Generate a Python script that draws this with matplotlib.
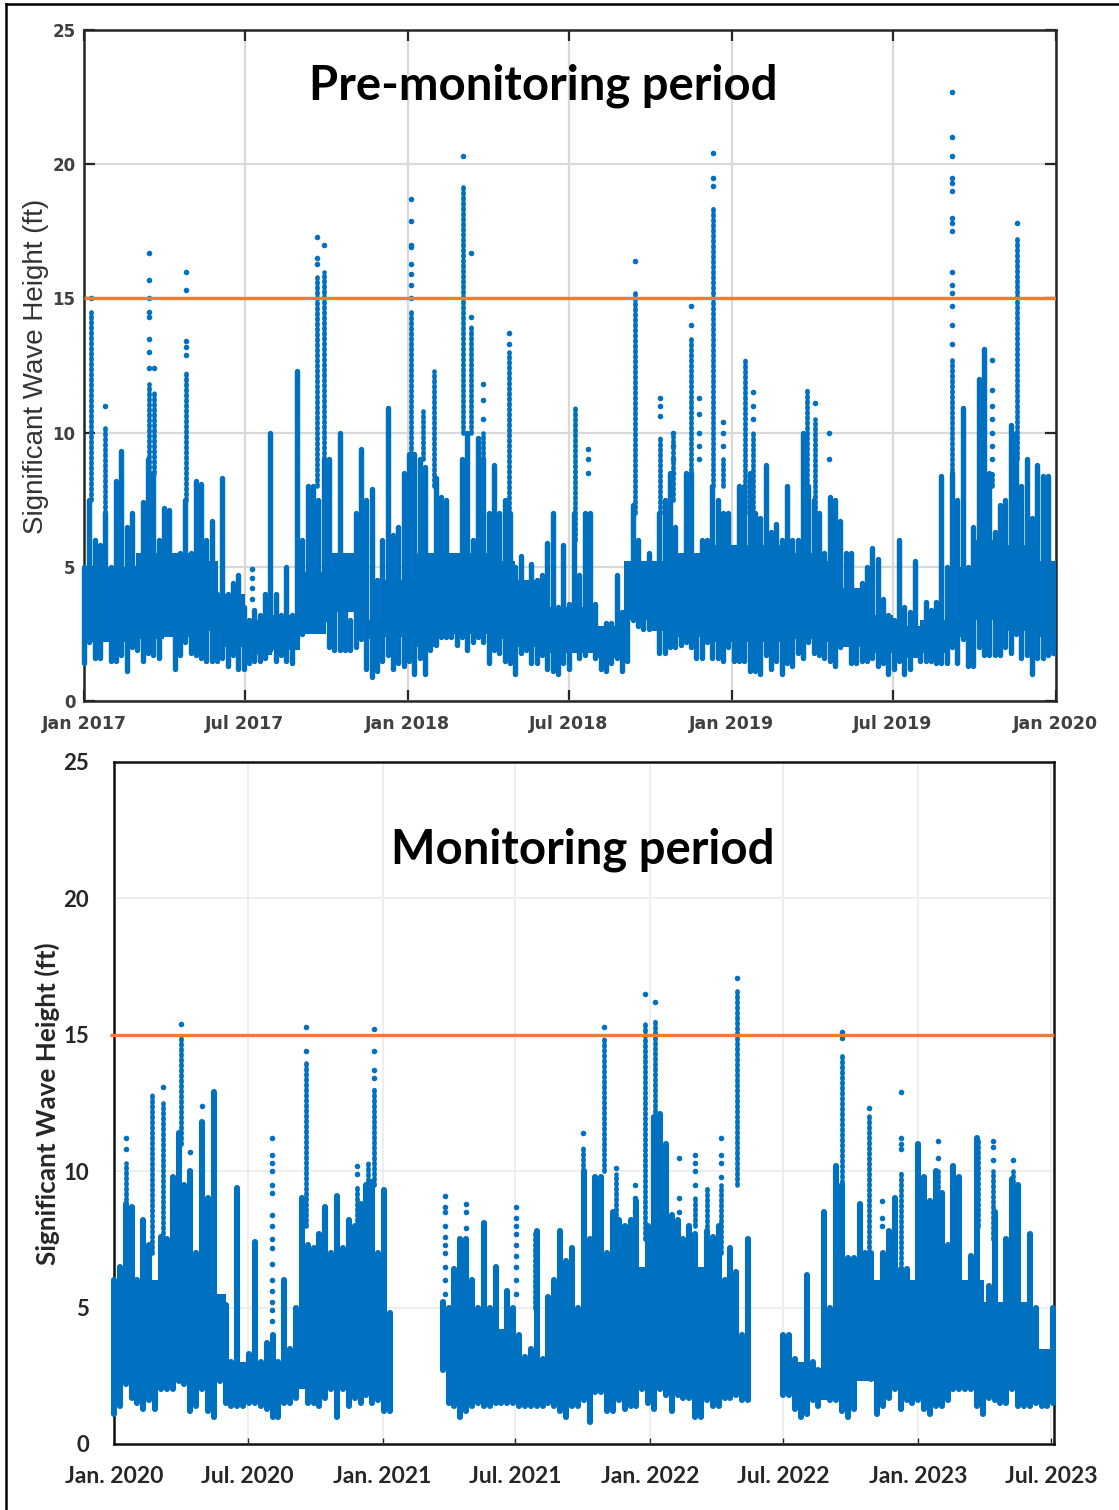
# Significant wave height, pre-monitoring and monitoring periods
import numpy as np
import pandas as pd
import matplotlib
matplotlib.use("Agg")
import matplotlib.pyplot as plt
from matplotlib.lines import Line2D

FIG_W, FIG_H = 1119, 1510
BLUE = "#0070C0"
ORANGE = "#ED7D31"
gap = np.nan

# ---- pre-monitoring period: one column of readings every 6 days from Jan 2017
pre_high = [5, 7.5, 6, 5.8, 7, 5, 8.2, 9.3, 6.5, 7, 5, 7.4, 9, 8.5, 6, 7.2, 7.1, 5.2, 5.5, 7.5,
            5.5, 8.2, 8.1, 6, 6.7, 4, 8.3, 4, 4.4, 4.7, 3.5, 3, 3.4, 3.2, 4, 10, 4, 3.2, 5, 3.2,
            12.3, 6, 8, 8, 7.5, 9, 9, 4.7, 10, 4, 3, 7, 9.4, 7.5, 7.9, 4.5, 6, 10.9, 6.2, 6.5, 8.5,
            9.2, 9.2, 9, 8.7, 5.2, 8.3, 7.6, 7.5, 5, 5.2, 9, 10, 6, 9.8, 9, 7, 8.8, 7, 7.5, 7,
            5, 5.4, 3.5, 5.1, 4.5, 4.7, 5.9, 7, 3.5, 5.8, 3.6, 7, 4.7, 7, 7, 3.6, 2.6, 2.9, 2.9, 4.7,
            3.3, 3.2, 7.3, 6, 5, 5.5, 4.2, 7, 7.5, 8.5, 6.5, 5, 8.5, 8.5, 5, 6, 6, 8, 7.5, 7,
            7, 5, 8, 8, 8.5, 7,
            6.8, 8.8, 6.3, 6.6, 6, 8, 6, 6, 10, 8, 7.5, 7, 5.5, 7.6, 7.5, 6.7, 5.5, 5.5, 4, 4.4,
            5, 5.7, 5.3, 3.8, 3.2, 3, 6, 3.5, 3.3, 5.2, 2.5, 3.7, 3.4, 3.7, 8.4, 5, 8.5, 7.5, 10.9, 5,
            6.5, 12, 13.1, 8.5, 6.3, 7.3, 7.5, 10.3, 10, 8, 9, 6.8, 8.8, 8.4, 8.4, 5]
pre_low = [1.4, 2.2, 1.6, 1.6, 2.4, 1.5, 1.5, 1.7, 1.1, 2, 1.9, 1.5, 1.8, 1.7, 1.6, 3, 2.5, 1.2, 1.7, 2.2,
           1.8, 1.7, 1.6, 1.5, 1.5, 1.5, 1.6, 1.3, 1.7, 1.2, 1.2, 1.4, 1.5, 1.5, 1.6, 1.9, 1.5, 1.7, 1.5, 1.4,
           2.3, 2.5, 4.2, 4.2, 3.4, 3, 2, 1.9, 1.9, 1.9, 1.9, 2, 2.3, 1.2, 0.9, 1.1, 1.5, 1.7, 1.2, 1.4, 1.3,
           1.5, 1, 1.6, 1, 1.9, 2.1, 2.4, 2.4, 2.4, 2.1, 2.4, 1.9, 2.2, 2.4, 2.2, 1.4, 1.9, 1.8, 1.5, 1.4,
           1, 1.8, 1.9, 1.4, 1.4, 1.7, 1.2, 1.1, 1, 1.4, 1.2, 1.9, 1.6, 1.7, 1.9, 1.6, 1.2, 1.1, 1.4, 1.6,
           1.1, 1.5, 3, 2.8, 2.7, 2.7, 2.8, 1.8, 1.8, 2, 2, 2.1, 2.2, 2, 1.6, 1.6, 2.2, 1.6, 1.6, 1.5,
           2, 1.5, 1.5, 1.5, 1.1, 1.1,
           1, 1.7, 1.2, 1.5, 1, 1.4, 1.3, 1.8, 1.6, 2.2, 1.8, 1.7, 1.6, 1.5, 1.3, 2, 2.4, 1.4, 1.4, 1.5,
           1.5, 1.6, 1.3, 1.4, 1, 1.2, 1.5, 1, 1.2, 1.7, 1.5, 1.5, 1.5, 1.4, 1.4, 1.4, 2, 1.4, 2.3, 1.3,
           1.3, 2, 1.7, 1.7, 1.7, 1.7, 2, 1.8, 2.5, 1.6, 1.7, 1, 1.6, 1.6, 1.7, 1.8]

# the solid part of the cloud, read month by month
pre_core_low = [2.2, 2.2, 2.3, 2.4, 2.6, 2, 1.7, 1.9, 2.5, 3.3, 2.3, 2.4,
                2, 2.5, 2.5, 2.3, 2, 1.8, 1.8, 1.6, 3, 2.6, 2.4, 2.2,
                2.2, 2.2, 2.3, 2.2, 2, 1.8, 1.6, 1.8, 2.4, 3, 2.6, 2.4, 2.4]
pre_core_high = [5, 5, 5.5, 5.5, 5.2, 4, 3, 3.2, 4.8, 5.5, 3, 4.5,
                 5.5, 5.5, 5.5, 5.2, 4.5, 3.5, 3.5, 2.8, 5.2, 5.2, 5.5, 5.8,
                 5.8, 5.8, 5.5, 5.2, 4.2, 3.2, 2.8, 3, 5, 6, 5.8, 5.2, 5]

# storms that stand out above the columns: day from start, foot and top of the solid part, loose readings above
pre_spike_days = [8, 24, 73, 79, 115, 189, 262, 270, 368, 382, 394, 427, 436, 449, 479, 553, 568, 621, 649,
                  664, 684, 693, 709, 720, 745, 754, 814, 823, 839, 978, 1014, 1023, 1051]
pre_spike_base = [7.5, 7, 8.5, 8.5, 7.5, 3, 8, 9, 9.2, 9, 8, 10, 10, 9, 6, 6, 7, 7, 7,
                  7.5, 8, 8, 8, 8, 7, 7, 8, 7, 7, 8, 8, 8, 9]
pre_spike_top = [14.5, 10.2, 11.8, 11.5, 12.3, 3, 15.8, 16, 14.5, 10.8, 12.3, 19.2, 14, 10, 13, 11, 7, 15.3, 9.8,
                 10, 13.5, 8, 18.4, 9, 12.7, 10, 11.6, 10.5, 7, 12.7, 13.1, 8.5, 17.3]
pre_spike_dots = [[15], [11], [12.4, 13, 13.5, 14.3, 14.5, 15, 15.7, 16.7], [12.4], [12.9, 13.2, 13.4, 15.3, 16],
                  [3.8, 4.2, 4.6, 4.9], [16.3, 16.5, 17.3], [17], [15, 15.5, 15.9, 16.3, 16.9, 17, 17.9, 18.7],
                  [], [], [20.3], [14.3, 16.7], [10.5, 11.2, 11.8], [13.3, 13.7], [],
                  [8.5, 9, 9.4], [16.4], [10.6, 11, 11.3], [8.5, 9, 9.5, 10], [14, 14.7],
                  [9, 9.5, 10, 10.7, 11.3], [19.2, 19.5, 20.4], [9.5, 10, 10.4], [], [10.5, 11, 11.5], [],
                  [11.1], [9, 10],
                  [13.3, 14, 14.7, 15.2, 15.5, 16, 17.5, 17.8, 18, 19, 19.3, 19.5, 20.3, 21, 22.7],
                  [], [9, 9.5, 10, 10.5, 11, 11.6, 12.7], [17.8]]

# ---- monitoring period: one column every 8 days from Jan 2020, gaps where the buoy was out
mon_high = [6, 6.5, 8.8, 8.7, 6, 8.2, 7.3, 5, 7.6, 7.5, 9.8, 11.4, 9.5, 10, 7, 11.8, 9, 12.9, 5.3, 5.1,
            3, 9.4, 2.9, 3.3, 7.4, 3, 3.7, 4, 3, 6, 3.5, 5, 9, 7.3, 7.2, 7.7, 8.7, 7, 9.1, 7.2,
            8.2, 8, 8.8, 9.5, 9.6, 7, 9.3, 4.8,
            gap, gap, gap, gap, gap, gap, gap, gap,
            5.2, 5, 6.4, 7.5, 7.5, 6, 5, 8.1, 5, 6.5, 4, 5.6, 5, 4, 3.2, 3.5, 7.8, 3.1, 5.4, 6,
            7.8, 6.7, 7.2, 5, 10, 7.5, 9.8, 9.8, 7, 8.5, 8.2, 8, 8.2, 8.9, 5.5, 8, 12, 12.1, 11, 8.4,
            8.2, 7.5, 8, 7.7, 6, 7.8, 7.6, 8, 6, 7.2, 6.3, 4, 7.5,
            gap, gap, gap, gap, gap,
            4, 4, 3.1, 2.9, 6.2, 3, 2.7, 8.5, 5, 10.2, 9.5, 6.8, 6.8, 8.8, 7, 7, 5, 7, 7.8, 9,
            6.4, 6.4, 4.5, 11, 9.8, 8.9, 10, 9.2, 7.3, 10.2, 9.8, 5, 6.9, 11.2, 4.2, 5.8, 8.5, 5, 7.5, 9.7,
            9.5, 4.5, 7.7, 5, 3.2, 3, 5]
mon_low = [1.1, 1.4, 2.2, 1.7, 1.5, 1.3, 1.6, 1.3, 2, 2, 2, 2.3, 2.2, 1.2, 1.4, 2, 1.2, 1, 2.3, 1.5,
           1.4, 1.4, 1.4, 1.5, 1.5, 1.4, 1.3, 1, 1, 1.5, 1.5, 1.7, 2.8, 1.5, 1.5, 1.4, 1.7, 2, 1, 2,
           1.4, 1.7, 1.5, 1.8, 1.5, 1.6, 1.2, 1.2,
           gap, gap, gap, gap, gap, gap, gap, gap,
           2.7, 1.5, 1.4, 1, 1.2, 1.4, 1.5, 1.4, 1.4, 1.5, 1.5, 1.5, 1.5, 1.4, 1.4, 1.4, 1.4, 1.4, 1.5, 1.4,
           1.2, 1, 1.4, 1.4, 1.6, 0.8, 1.9, 1.9, 1.2, 1.2, 1.6, 1.3, 1.4, 1.4, 2, 1.5, 1.3, 2, 1.8, 1.2,
           1.8, 1.7, 1.7, 1, 1, 1.6, 1.4, 1.4, 1.7, 1.7, 1.8, 1.6, 1.6,
           gap, gap, gap, gap, gap,
           1.8, 1.8, 1.3, 1, 1.1, 1.6, 1.4, 1.8, 1.6, 1.6, 1.2, 1, 1.3, 2.7, 2.7, 2.4, 1.1, 1.4, 1.7, 2,
           1.3, 1.6, 1.5, 1.6, 1.3, 1.1, 1.4, 1.4, 1.6, 2, 2, 2, 2, 1.4, 1.1, 1.7, 1.6, 1.5, 1.5, 2,
           1.4, 1.4, 1.4, 1.5, 1.4, 1.4, 1.5]

mon_core_low = [2.2, 2.5, 2.6, 2.6, 2.6, 1.7, 1.6, 1.7, 2, 2.4, 2.4, 2.4,
                2.4, gap, gap, 2, 2, 2, 1.8, 1.8, 1.8, 2, 2, 2.3,
                2.4, 2.4, 2.2, 2.2, 2, gap, 1.9, 1.6, 2, 2.3, 2.3, 2.2,
                2.3, 2.3, 2.2, 2, 2, 1.8, 1.6]
mon_core_high = [5.8, 6, 6.5, 6, 5.5, 3, 2.8, 3, 3.5, 6, 6, 6,
                 5, gap, gap, 4.5, 4.5, 4.2, 3, 3, 4.5, 5.2, 6, 6.5,
                 7, 6.8, 6.5, 6, 5.2, gap, 3, 2.8, 4.5, 6, 6, 6,
                 6.2, 6.5, 6, 5.2, 5.2, 3.5, 3]

mon_spike_days = [16, 52, 67, 91, 103, 120, 215, 262, 331, 346, 355, 451, 480, 548, 574, 639, 668, 684, 710,
                  724, 737, 770, 792, 808, 827, 849, 992, 1029, 1047, 1073, 1123, 1178, 1198, 1225]
mon_spike_base = [8, 7, 7.5, 11, 9, 9, 4, 8, 8, 8.5, 9.5, 5, 6, 5, 5, 10, 10, 8, 8,
                  7.5, 12, 8, 8, 7, 7, 9.5, 9, 7, 7, 6.4, 9, 8, 7.5, 9]
mon_spike_top = [10.3, 12.8, 12.5, 15, 10, 11.8, 4, 14, 9.5, 10.3, 13, 5, 7.5, 5, 7.8, 10.9, 14.9, 9.9, 8,
                 15.4, 15.5, 8, 9, 9.4, 9.5, 16.6, 14.3, 12.1, 7, 10, 10, 11.1, 10, 10]
mon_spike_dots = [[10.8, 11.2], [], [13.1], [15.4], [10.7], [12.4],
                  [4.5, 4.9, 5.2, 5.6, 6, 6.6, 7.2, 7.5, 8, 8.4, 9.2, 9.5, 10, 10.3, 10.6, 11.2],
                  [14.4, 15.3], [9.9, 10.2], [], [13.4, 13.7, 14.4, 15.2],
                  [5.5, 6, 6.5, 7, 7.3, 7.6, 8, 8.5, 8.7, 9.1], [7.9, 8.5, 8.8],
                  [5.5, 6, 6.5, 6.9, 7.3, 7.7, 8, 8.3, 8.7], [], [11.4], [15.3], [10.1], [8.5, 9, 9.5],
                  [16.5], [16.2], [8.5, 9, 10.5], [9.5, 10, 10.3, 10.6], [], [9.8, 10.3, 10.6, 11.2], [17.1],
                  [14.9, 15.1], [12.3], [8, 8.3, 8.9], [10.8, 11, 11.2, 12.9], [10.5, 11.1], [], [10.4, 10.9, 11.1],
                  [10.4]]

y_ticks = [0, 5, 10, 15, 20, 25]
threshold = 15
pre_tick_dates = ["2017-01-01", "2017-07-01", "2018-01-01", "2018-07-01", "2019-01-01", "2019-07-01", "2020-01-01"]
pre_tick_labels = ["Jan 2017", "Jul 2017", "Jan 2018", "Jul 2018", "Jan 2019", "Jul 2019", "Jan 2020"]
mon_tick_dates = ["2020-01-01", "2020-07-01", "2021-01-01", "2021-07-01", "2022-01-01", "2022-07-01", "2023-01-01", "2023-07-01"]
mon_tick_labels = ["Jan. 2020", "Jul. 2020", "Jan. 2021", "Jul. 2021", "Jan. 2022", "Jul. 2022", "Jan. 2023", "Jul. 2023"]


def px_axes(fig, left, right, top, bottom):
    return fig.add_axes([left / FIG_W, 1 - bottom / FIG_H, (right - left) / FIG_W, (bottom - top) / FIG_H])


def draw_series(ax, start, step, high, low, core_low, core_high, sp_days, sp_base, sp_top, sp_dots, col_lw):
    t0 = pd.Timestamp(start)
    days = t0 + pd.to_timedelta(np.arange(len(high)) * step, unit="D")
    months = pd.date_range(t0, periods=len(core_low), freq="MS")
    ax.fill_between(months, core_low, core_high, step="post", color=BLUE, lw=0, zorder=3)
    ax.vlines(days, low, high, color=BLUE, lw=col_lw, capstyle="round", zorder=3, clip_on=False)
    # beads instead of a hard bar, the loose readings sit almost on top of each other
    sp_x = t0 + pd.to_timedelta(sp_days, unit="D")
    ax.vlines(sp_x, sp_base, sp_top, color=BLUE, lw=3.4, linestyles=[(0, (0.4, 0.7))], capstyle="round", zorder=3)
    dot_x = [t0 + pd.Timedelta(days=d) for d, vals in zip(sp_days, sp_dots) for _ in vals]
    dot_y = [v for vals in sp_dots for v in vals]
    ax.scatter(dot_x, dot_y, s=16, color=BLUE, linewidths=0, zorder=3)


fig = plt.figure(figsize=(FIG_W / 100, FIG_H / 100), dpi=100)

# top panel, MATLAB look
ax1 = px_axes(fig, 84, 1056, 30, 701)
draw_series(ax1, "2017-01-01", 6, pre_high, pre_low, pre_core_low, pre_core_high,
            pre_spike_days, pre_spike_base, pre_spike_top, pre_spike_dots, 3.9)
ax1.set_xlim(pd.Timestamp("2017-01-01"), pd.Timestamp("2020-01-01"))
ax1.set_ylim(0, 25)
ax1.set_xticks(pd.to_datetime(pre_tick_dates))
ax1.set_xticklabels(pre_tick_labels, family="DejaVu Sans", fontweight="bold", fontsize=12.5, color="#404040")
ax1.set_yticks(y_ticks)
ax1.set_yticklabels(y_ticks, family="DejaVu Sans", fontweight="bold", fontsize=12, color="#404040")
ax1.tick_params(axis="x", direction="in", length=8, width=1.6, color="#262626", top=True, pad=10)
ax1.tick_params(axis="y", direction="in", length=8, width=1.6, color="#262626", right=True, pad=6)
ax1.grid(True, color="#d9d9d9", lw=1.6, zorder=0)
ax1.set_axisbelow(True)
for s in ax1.spines.values():
    s.set_linewidth(1.8)
    s.set_color("#262626")
ax1.plot(ax1.get_xlim(), [threshold, threshold], color=ORANGE, lw=2.4, zorder=4, solid_capstyle="butt")
fig.text(36 / FIG_W, 1 - 366 / FIG_H, "Significant Wave Height (ft)", rotation=90, ha="center", va="center",
         family="Liberation Sans", fontsize=20, color="#333333")
fig.text(543 / FIG_W, 1 - 86 / FIG_H, "Pre-monitoring period", ha="center", va="center",
         family="Lato", fontweight="bold", fontsize=34, color="black")

# bottom panel, Excel look
ax2 = px_axes(fig, 114, 1054, 762, 1444)
draw_series(ax2, "2020-01-01", 8, mon_high, mon_low, mon_core_low, mon_core_high,
            mon_spike_days, mon_spike_base, mon_spike_top, mon_spike_dots, 4.4)
ax2.set_xlim(pd.Timestamp("2020-01-01"), pd.Timestamp("2023-07-05"))
ax2.set_ylim(0, 25)
ax2.set_xticks(pd.to_datetime(mon_tick_dates))
ax2.set_xticklabels(mon_tick_labels, family="Lato", fontweight="bold", fontsize=16.5, color="#262626")
ax2.set_yticks(y_ticks)
ax2.set_yticklabels(y_ticks, family="Lato", fontweight="bold", fontsize=16, color="#262626")
ax2.tick_params(axis="x", direction="in", length=4, width=1, color="#262626", pad=16)
ax2.tick_params(axis="y", length=0, pad=18)
ax2.grid(True, color="#eeeeee", lw=1.4, zorder=0)
ax2.set_axisbelow(True)
for s in ax2.spines.values():
    s.set_linewidth(1.8)
    s.set_color("#111111")
x0, x1 = ax2.get_xlim()
ax2.plot([x0 - 0.004 * (x1 - x0), x1], [threshold, threshold], color=ORANGE, lw=2.4, zorder=4,
         solid_capstyle="butt", clip_on=False)
fig.text(47 / FIG_W, 1 - 1104 / FIG_H, "Significant Wave Height (ft)", rotation=90, ha="center", va="center",
         family="Lato", fontweight="bold", fontsize=18.8, color="#262626")
fig.text(583 / FIG_W, 1 - 850 / FIG_H, "Monitoring period", ha="center", va="center",
         family="Lato", fontweight="bold", fontsize=34, color="black")

# outer frame of the pasted figure
fig.add_artist(Line2D([6 / FIG_W, 6 / FIG_W], [0, 1 - 4 / FIG_H], color="black", lw=1.8))
fig.add_artist(Line2D([6 / FIG_W, 1], [1 - 4 / FIG_H, 1 - 4 / FIG_H], color="black", lw=1.8))

fig.savefig("out.png", dpi=100)
